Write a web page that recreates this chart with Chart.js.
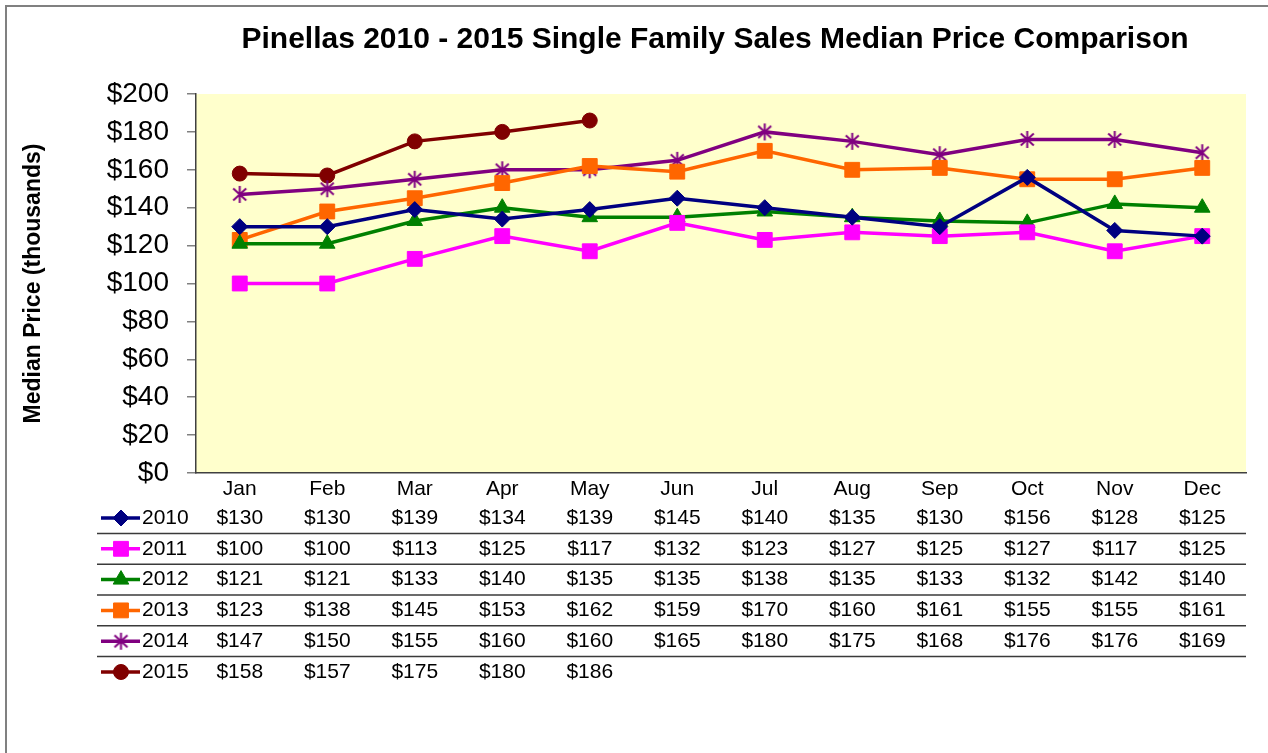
<!DOCTYPE html>
<html>
<head>
<meta charset="utf-8">
<script src="https://cdn.jsdelivr.net/npm/chart.js@4.4.1/dist/chart.umd.min.js"></script>
<style>
  html, body { margin: 0; padding: 0; background: #ffffff; }
  #wrap { position: relative; width: 1268px; height: 753px; }
</style>
</head>
<body>
<div id="wrap"><canvas id="c" width="1268" height="753"></canvas></div>
<script>
const chartTitle = 'Pinellas 2010 - 2015 Single Family Sales Median Price Comparison';
const yAxisTitle = 'Median Price (thousands)';
const months = ['Jan','Feb','Mar','Apr','May','Jun','Jul','Aug','Sep','Oct','Nov','Dec'];
const yTicks = [0, 20, 40, 60, 80, 100, 120, 140, 160, 180, 200];

const years = ['2010','2011','2012','2013','2014','2015'];
const s2010 = [130, 130, 139, 134, 139, 145, 140, 135, 130, 156, 128, 125];
const s2011 = [100, 100, 113, 125, 117, 132, 123, 127, 125, 127, 117, 125];
const s2012 = [121, 121, 133, 140, 135, 135, 138, 135, 133, 132, 142, 140];
const s2013 = [123, 138, 145, 153, 162, 159, 170, 160, 161, 155, 155, 161];
const s2014 = [147, 150, 155, 160, 160, 165, 180, 175, 168, 176, 176, 169];
const s2015 = [158, 157, 175, 180, 186, null, null, null, null, null, null, null];

const seriesData = [s2010, s2011, s2012, s2013, s2014, s2015];
const colors = ['#000080', '#FF00FF', '#008000', '#FF6600', '#800080', '#800000'];

// Excel-like asterisk marker: vertical stroke plus an X
function makeStar(color) {
  const c = document.createElement('canvas');
  c.width = 19; c.height = 19;
  const g = c.getContext('2d');
  g.strokeStyle = color;
  g.lineWidth = 2;
  g.beginPath();
  g.moveTo(9.5, 1); g.lineTo(9.5, 18);
  g.moveTo(3, 3.5); g.lineTo(16, 15.5);
  g.moveTo(16, 3.5); g.lineTo(3, 15.5);
  g.stroke();
  return c;
}
const starImg = makeStar('#800080');

const styles = ['rectRot', 'rect', 'triangle', 'rect', starImg, 'circle'];
const radii = [8, 10.5, 9, 10.5, 9, 7.5];
const bws = [1, 1, 1, 1, 2, 1];

const FONT = "'Liberation Sans', Arial, sans-serif";

const datasets = years.map((y, i) => ({
  label: y,
  data: seriesData[i],
  borderColor: colors[i],
  backgroundColor: colors[i],
  borderWidth: 3.5,
  pointStyle: styles[i],
  pointRadius: radii[i],
  pointHoverRadius: radii[i],
  pointBorderColor: colors[i],
  pointBackgroundColor: colors[i],
  pointBorderWidth: bws[i],
  spanGaps: false,
  tension: 0
}));

const decorPlugin = {
  id: 'decor',
  beforeDraw(chart) {
    const ctx = chart.ctx, a = chart.chartArea;
    ctx.save();
    ctx.fillStyle = '#FFFFFF';
    ctx.fillRect(0, 0, chart.width, chart.height);
    ctx.fillStyle = '#FFFFCC';
    ctx.fillRect(a.left, a.top, a.right - a.left, a.bottom - a.top);
    ctx.strokeStyle = '#808080';
    ctx.lineWidth = 2;
    ctx.beginPath();
    ctx.moveTo(6, chart.height + 2);
    ctx.lineTo(6, 6);
    ctx.lineTo(chart.width + 2, 6);
    ctx.stroke();
    ctx.restore();
  },
  afterDraw(chart) {
    const ctx = chart.ctx, a = chart.chartArea;
    const xs = chart.scales.x;
    ctx.save();
    ctx.fillStyle = '#000';
    ctx.font = 'bold 30px ' + FONT;
    ctx.textAlign = 'center';
    ctx.textBaseline = 'middle';
    ctx.fillText(chartTitle, 715, 40);

    const rowY0 = 518, rowH = 30.8;
    ctx.font = '21px ' + FONT;
    years.forEach((yr, i) => {
      const cy = rowY0 + i * rowH;
      ctx.strokeStyle = colors[i];
      ctx.lineWidth = 3.5;
      ctx.beginPath();
      ctx.moveTo(101, cy);
      ctx.lineTo(140, cy);
      ctx.stroke();
      ctx.fillStyle = colors[i];
      ctx.strokeStyle = colors[i];
      ctx.lineWidth = bws[i];
      Chart.helpers.drawPoint(ctx, {
        pointStyle: styles[i], radius: radii[i], borderWidth: bws[i], rotation: 0
      }, 121, cy);
      ctx.fillStyle = '#000';
      ctx.textAlign = 'left';
      ctx.fillText(yr, 142, cy);
      ctx.textAlign = 'center';
      seriesData[i].forEach((v, j) => {
        if (v === null || v === undefined) return;
        ctx.fillText('$' + v, xs.getPixelForValue(j), cy);
      });
      if (i < years.length - 1) {
        ctx.strokeStyle = '#3a3a3a';
        ctx.lineWidth = 1.5;
        ctx.beginPath();
        ctx.moveTo(97, cy + rowH / 2);
        ctx.lineTo(a.right, cy + rowH / 2);
        ctx.stroke();
      }
    });
    ctx.restore();
  }
};

new Chart(document.getElementById('c'), {
  type: 'line',
  data: { labels: months, datasets },
  plugins: [decorPlugin],
  options: {
    responsive: false,
    animation: false,
    events: [],
    layout: { padding: { left: 0, top: 94, right: 22, bottom: 0 } },
    plugins: {
      legend: { display: false },
      title: { display: false },
      tooltip: { enabled: false }
    },
    scales: {
      x: {
        type: 'category',
        offset: true,
        grid: { display: false, drawTicks: false },
        border: { display: true, color: '#404040', width: 1.5 },
        ticks: { color: '#000', font: { family: FONT, size: 21 }, padding: 4, maxRotation: 0, autoSkip: false },
        afterFit(s) { s.height = 280; }
      },
      y: {
        min: 0, max: 200,
        afterBuildTicks(s) { s.ticks = yTicks.map(v => ({ value: v })); },
        grid: { drawOnChartArea: false, drawTicks: true, tickLength: 9, color: '#808080', lineWidth: 1.5 },
        border: { display: true, color: '#404040', width: 1.5 },
        ticks: { color: '#000', font: { family: FONT, size: 28 }, padding: 18, callback: v => '$' + v },
        title: { display: true, text: yAxisTitle, color: '#000', font: { family: FONT, size: 23, weight: 'bold' }, padding: { top: 20, bottom: 0 } },
        afterFit(s) { s.width = 196; }
      }
    }
  }
});
</script>
</body>
</html>
